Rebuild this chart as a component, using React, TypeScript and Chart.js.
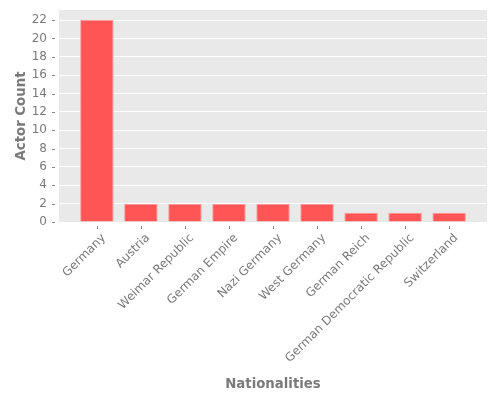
import React, { useEffect, useRef } from "react";
import { Chart, registerables } from "chart.js";

Chart.register(...registerables);

const categories = [
  "Germany",
  "Austria",
  "Weimar Republic",
  "German Empire",
  "Nazi Germany",
  "West Germany",
  "German Reich",
  "German Democratic Republic",
  "Switzerland",
];
const actorCounts = [22, 2, 2, 2, 2, 2, 1, 1, 1];
const yTicks = [0, 2, 4, 6, 8, 10, 12, 14, 16, 18, 20, 22];

const FONT = "'DejaVu Sans', sans-serif";
const TEXT = "#7a7a7a";

const bgPlugin = {
  id: "bgAndTicks",
  beforeDraw(chart: any) {
    const { ctx, chartArea } = chart;
    ctx.save();
    ctx.fillStyle = "#E9E9E9";
    ctx.fillRect(chartArea.left, chartArea.top, chartArea.right - chartArea.left, chartArea.bottom - chartArea.top);
    ctx.restore();
  },
  afterDraw(chart: any) {
    const { ctx, chartArea, scales } = chart;
    ctx.save();
    ctx.strokeStyle = "#888888";
    ctx.lineWidth = 1;
    ctx.beginPath();
    scales.y.ticks.forEach((t: any) => {
      const py = Math.round(scales.y.getPixelForValue(t.value)) + 0.5;
      ctx.moveTo(chartArea.left - 7, py);
      ctx.lineTo(chartArea.left - 4, py);
    });
    scales.x.ticks.forEach((t: any) => {
      const px = Math.round(scales.x.getPixelForValue(t.value)) + 0.5;
      ctx.moveTo(px, chartArea.bottom + 4);
      ctx.lineTo(px, chartArea.bottom + 7);
    });
    ctx.stroke();
    ctx.restore();
  },
};

export default function App() {
  const ref = useRef<HTMLCanvasElement>(null);
  useEffect(() => {
    const chart = new Chart(ref.current as HTMLCanvasElement, {
      type: "bar",
      data: {
        datasets: [
          {
            data: actorCounts.map((v, i) => ({ x: i, y: v })),
            backgroundColor: "#FF5555",
            borderColor: "#FF9A9A",
            borderWidth: 1,
            barPercentage: 0.76,
            categoryPercentage: 1,
          },
        ],
      },
      options: {
        responsive: false,
        animation: false,
        layout: { padding: { top: 10, right: 13, bottom: 3, left: 10 } },
        plugins: { legend: { display: false }, tooltip: { enabled: false } },
        scales: {
          x: {
            type: "linear",
            offset: false,
            min: -0.86,
            max: 8.86,
            afterBuildTicks: (scale: any) => {
              scale.ticks = categories.map((_, i) => ({ value: i }));
            },
            afterFit: (scale: any) => {
              scale.height = 400 - 222 - 3;
              scale.paddingLeft = 0;
              scale.paddingRight = 0;
            },
            grid: { display: false, drawTicks: false, offset: false },
            border: { display: false },
            ticks: {
              autoSkip: false,
              minRotation: 45,
              maxRotation: 45,
              padding: 9,
              labelOffset: 7,
              color: TEXT,
              font: { family: FONT, size: 12 },
              callback: (v: any) => categories[Math.round(Number(v))],
            },
            title: {
              display: true,
              text: "Nationalities",
              color: TEXT,
              font: { family: FONT, size: 13.3, weight: "bold" },
              padding: { top: 4, bottom: 4 },
            },
          },
          y: {
            min: 0,
            max: 23.1,
            afterBuildTicks: (scale: any) => {
              scale.ticks = yTicks.map((v) => ({ value: v }));
            },
            afterFit: (scale: any) => {
              scale.width = 49;
              scale.paddingTop = 0;
              scale.paddingBottom = 0;
            },
            grid: { color: "#FFFFFF", lineWidth: 1, drawTicks: false },
            border: { display: false },
            ticks: {
              padding: 12,
              color: TEXT,
              font: { family: FONT, size: 12 },
            },
            title: {
              display: true,
              text: "Actor Count",
              color: TEXT,
              font: { family: FONT, size: 13.3, weight: "bold" },
              padding: { top: 4, bottom: 4 },
            },
          },
        },
      },
      plugins: [bgPlugin],
    });
    return () => chart.destroy();
  }, []);
  return (
    <div style={{ position: "fixed", left: 0, top: 0, width: 500, height: 400, background: "#fff" }}>
      <canvas ref={ref} width={500} height={400} />
    </div>
  );
}
